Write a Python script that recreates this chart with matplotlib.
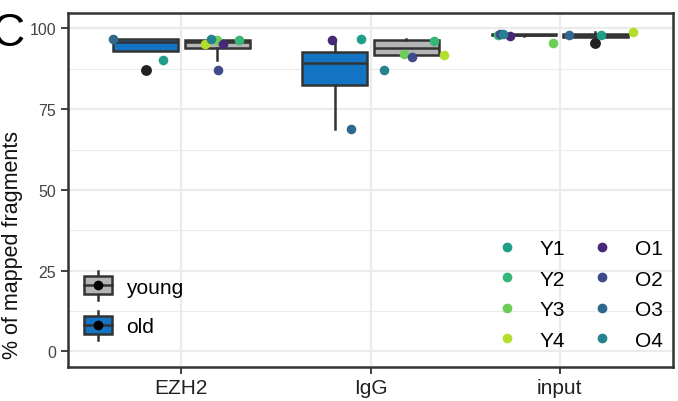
import numpy as np
import matplotlib
matplotlib.use('Agg')
import matplotlib.pyplot as plt
from matplotlib.patches import Rectangle, Patch
from matplotlib.lines import Line2D
from matplotlib.legend_handler import HandlerBase

plt.rcParams['font.family'] = ['Liberation Sans', 'DejaVu Sans']

categories = ['EZH2', 'IgG', 'input']
young_names = ['Y1', 'Y2', 'Y3', 'Y4']
old_names = ['O1', 'O2', 'O3', 'O4']

# % of mapped fragments per sample (Y1..Y4 / O1..O4)
ezh2_young = [90.3, 96.5, 96.4, 95.1]
ezh2_old = [95.1, 87.2, 96.6, 96.7]
igg_young = [96.7, 96.2, 92.0, 91.7]
igg_old = [96.4, 91.3, 69.0, 87.1]
input_young = [98.0, 98.0, 95.5, 98.8]
input_old = [97.7, 98.3, 98.0, 98.2]

# horizontal jitter of each point
ezh2_jit_young = [-0.096, 0.304, 0.187, 0.126]
ezh2_jit_old = [0.220, 0.193, -0.364, 0.157]
igg_jit_young = [-0.051, 0.334, 0.178, 0.388]
igg_jit_old = [-0.206, 0.217, -0.105, 0.072]
input_jit_young = [0.217, -0.325, -0.033, 0.387]
input_jit_old = [-0.262, -0.315, 0.049, -0.299]

young_vals = [ezh2_young, igg_young, input_young]
old_vals = [ezh2_old, igg_old, input_old]
young_jit = [ezh2_jit_young, igg_jit_young, input_jit_young]
old_jit = [ezh2_jit_old, igg_jit_old, input_jit_old]

# viridis(10)[1:9]
old_colors = ['#482878', '#3E4A89', '#31688E', '#26828E']
young_colors = ['#1F9E89', '#35B779', '#6DCD59', '#B4DE2C']

young_fill = '#B5B5B5'
old_fill = '#1274C2'
edge = '#333333'

fig = plt.figure(figsize=(6.78, 4.02), dpi=100)
ax = fig.add_axes([68/678, 34/402, 605/678, 354/402])

pos = np.arange(1, len(categories) + 1)
box_kw = dict(widths=0.34, patch_artist=True, whis=1.5,
              medianprops=dict(color=edge, lw=1.8),
              whiskerprops=dict(color=edge, lw=1.8),
              capprops=dict(lw=0),
              flierprops=dict(marker='o', markerfacecolor='#222222', markeredgecolor='#222222', markersize=6.8))

bo = ax.boxplot(old_vals, positions=pos - 0.19, **box_kw)
by = ax.boxplot(young_vals, positions=pos + 0.19, **box_kw)
for b in bo['boxes']:
    b.set(facecolor=old_fill, edgecolor=edge, lw=1.8)
for b in by['boxes']:
    b.set(facecolor=young_fill, edgecolor=edge, lw=1.8)

for i in range(len(categories)):
    for j in range(4):
        ax.scatter(pos[i] + young_jit[i][j], young_vals[i][j], s=48, color=young_colors[j], lw=0, zorder=5)
    for j in range(4):
        ax.scatter(pos[i] + old_jit[i][j], old_vals[i][j], s=48, color=old_colors[j], lw=0, zorder=5)

ax.set_xlim(0.4, 3.6)
ax.set_ylim(-4.9, 104.8)
ax.set_xticks(pos)
ax.set_xticklabels(categories, fontsize=15, color='#222222')
ax.set_yticks([0, 25, 50, 75, 100])
ax.set_yticks([12.5, 37.5, 62.5, 87.5], minor=True)
ax.tick_params(axis='y', labelsize=11.5, labelcolor='#444444', length=5, width=1.3, color=edge)
ax.tick_params(axis='y', which='minor', length=0)
ax.tick_params(axis='x', length=5, width=1.3, color=edge, pad=3)
ax.grid(True, which='major', color='#EBEBEB', lw=1.6)
ax.grid(True, which='minor', axis='y', color='#EBEBEB', lw=0.8)
ax.set_axisbelow(True)
for s in ax.spines.values():
    s.set_color(edge)
    s.set_linewidth(1.8)

ax.set_ylabel('% of mapped fragments', fontsize=15.5, color='#111111')
ax.yaxis.set_label_coords(-0.074, 0.347)

fig.text(-0.013, 0.915, 'C', fontsize=33, ha='left', va='center')


class BoxKey(HandlerBase):
    def create_artists(self, legend, orig_handle, xdescent, ydescent, width, height, fontsize, trans):
        cx = width / 2 - xdescent
        cy = height / 2 - ydescent
        whisk = Line2D([cx, cx], [cy - height * 0.8, cy + height * 0.8], color=edge, lw=1.8, transform=trans)
        box = Rectangle((cx - width * 0.45, cy - height * 0.5), width * 0.9, height,
                        facecolor=orig_handle.get_facecolor(), edgecolor=edge, lw=1.8, transform=trans)
        mid = Line2D([cx - width * 0.45, cx + width * 0.45], [cy, cy], color=edge, lw=1.8, transform=trans)
        dot = Line2D([cx], [cy], marker='o', color='black', markersize=6, transform=trans)
        return [whisk, box, mid, dot]


h_group = [Patch(facecolor=young_fill), Patch(facecolor=old_fill)]
leg1 = ax.legend(h_group, ['young', 'old'], handler_map={Patch: BoxKey()},
                 loc='lower left', bbox_to_anchor=(0.0, 0.045), frameon=False,
                 fontsize=15, handlelength=1.5, handleheight=0.95,
                 labelspacing=0.95, handletextpad=0.6, borderaxespad=0.3)
ax.add_artist(leg1)

h_samples = [Line2D([], [], ls='', marker='o', markersize=6, color=c) for c in young_colors + old_colors]
ax.legend(h_samples, young_names + old_names, ncol=2, loc='lower right',
          bbox_to_anchor=(1.0, 0.02), frameon=False, fontsize=15,
          handlelength=1.0, handletextpad=1.05, columnspacing=1.3,
          labelspacing=0.55, borderaxespad=0.1)

fig.savefig('out.png', dpi=100)
